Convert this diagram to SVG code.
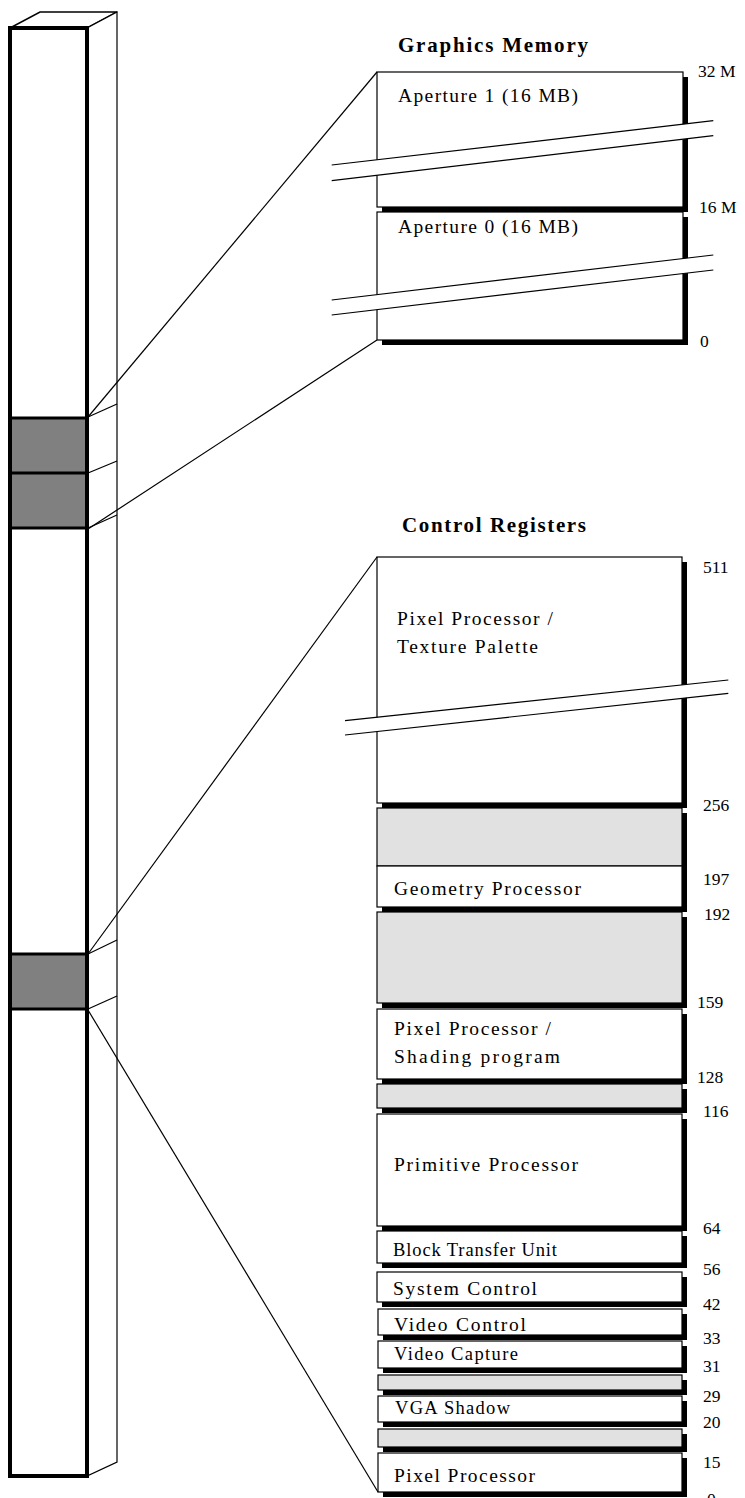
<svg xmlns="http://www.w3.org/2000/svg" width="745" height="1498" viewBox="0 0 745 1498">
  <style>
    .thin { fill: none; stroke: #000; stroke-width: 1.2; }
    .edge { fill: none; stroke: #000; stroke-width: 4; }
    .bar { fill: none; stroke: #000; stroke-width: 3; }
    .block { fill: #808080; stroke: none; }
    .shadow { fill: #000; }
    .cell { fill: #fff; stroke: #000; stroke-width: 1.2; }
    .cell.empty { fill: #e1e1e1; }
    .band { fill: #fff; stroke: none; }
    .head { font-family: "Liberation Serif", "Times New Roman", serif; font-weight: bold; font-size: 21px; fill: #000; }
    .lbl { font-family: "Liberation Serif", "Times New Roman", serif; font-size: 19.5px; fill: #000; }
    .lbl.small { font-size: 18.5px; }
    .num { font-family: "Liberation Serif", "Times New Roman", serif; font-size: 17.5px; fill: #000; }
  </style>

  <!-- Address space column drawn as a tall box -->
  <g id="address-column">
    <polygon points="10,28 40,12 117,12 87,28" fill="#fff" stroke="#000" stroke-width="1.5"/>
    <polygon points="87,28 117,12 117,1462 87,1476" fill="#fff" stroke="#000" stroke-width="1.2"/>
    <rect class="block" x="10" y="418" width="77" height="110"/>
    <rect class="block" x="10" y="954" width="77" height="55"/>
    <line class="bar" x1="10" y1="418" x2="87" y2="418"/>
    <line class="bar" x1="10" y1="473" x2="87" y2="473"/>
    <line class="bar" x1="10" y1="528" x2="87" y2="528"/>
    <line class="bar" x1="10" y1="954" x2="87" y2="954"/>
    <line class="bar" x1="10" y1="1009" x2="87" y2="1009"/>
    <line class="thin" x1="88" y1="417" x2="117" y2="404"/>
    <line class="thin" x1="88" y1="473" x2="117" y2="461"/>
    <line class="thin" x1="88" y1="528" x2="117" y2="515"/>
    <line class="thin" x1="88" y1="954" x2="117" y2="940"/>
    <line class="thin" x1="88" y1="1009" x2="117" y2="996"/>
    <rect class="edge" x="10" y="28" width="77" height="1448"/>
  </g>

  <!-- Graphics memory map -->
  <g id="graphics-memory">
    <text class="head" x="398" y="52" textLength="190">Graphics Memory</text>
    <g id="aperture-1">
      <rect class="shadow" x="382" y="77" width="306" height="135"/>
      <rect class="cell" x="377" y="72" width="306" height="135"/>
      <text class="lbl" x="398" y="102" textLength="180">Aperture 1 (16 MB)</text>
    </g>
    <g id="aperture-0">
      <rect class="shadow" x="382" y="217" width="306" height="128"/>
      <rect class="cell" x="377" y="212" width="306" height="128"/>
      <text class="lbl" x="398" y="233" textLength="180">Aperture 0 (16 MB)</text>
    </g>
    <polygon class="band" points="331.7,165 713.3,120.7 713.3,135.7 331.7,180.7"/>
    <line class="thin" x1="331.7" y1="165" x2="713.3" y2="120.7"/>
    <line class="thin" x1="331.7" y1="180.7" x2="713.3" y2="135.7"/>
    <polygon class="band" points="331.7,300 713.3,255 713.3,270 331.7,315"/>
    <line class="thin" x1="331.7" y1="300" x2="713.3" y2="255"/>
    <line class="thin" x1="331.7" y1="315" x2="713.3" y2="270"/>
    <text class="num" x="698" y="77">32 M</text>
    <text class="num" x="699" y="213">16 M</text>
    <text class="num" x="700" y="347">0</text>
  </g>

  <!-- Control register map -->
  <g id="control-registers">
    <text class="head" x="402" y="532" textLength="184">Control Registers</text>
    <g id="texture-palette">
      <rect class="shadow" x="382" y="562" width="305" height="246"/>
      <rect class="cell" x="377" y="557" width="305" height="246"/>
      <text class="lbl" x="397" y="625" textLength="156">Pixel Processor /</text>
      <text class="lbl" x="397" y="653" textLength="141">Texture Palette</text>
    </g>
    <g id="reserved-197-255">
      <rect class="shadow" x="382" y="813" width="305" height="58"/>
      <rect class="cell empty" x="377" y="808" width="305" height="58"/>
    </g>
    <g id="geometry-processor">
      <rect class="shadow" x="382" y="871" width="305" height="41"/>
      <rect class="cell" x="377" y="866" width="305" height="41"/>
      <text class="lbl" x="394" y="895" textLength="187">Geometry Processor</text>
    </g>
    <g id="reserved-159-191">
      <rect class="shadow" x="382" y="917" width="305" height="91"/>
      <rect class="cell empty" x="377" y="912" width="305" height="91"/>
    </g>
    <g id="shading-program">
      <rect class="shadow" x="382" y="1014" width="305" height="70"/>
      <rect class="cell" x="377" y="1009" width="305" height="70"/>
      <text class="lbl" x="394" y="1035" textLength="157">Pixel Processor /</text>
      <text class="lbl" x="394" y="1063" textLength="166">Shading program</text>
    </g>
    <g id="reserved-116-127">
      <rect class="shadow" x="382" y="1089" width="305" height="24"/>
      <rect class="cell empty" x="377" y="1084" width="305" height="24"/>
    </g>
    <g id="primitive-processor">
      <rect class="shadow" x="382" y="1119" width="305" height="112"/>
      <rect class="cell" x="377" y="1114" width="305" height="112"/>
      <text class="lbl" x="394" y="1171" textLength="184">Primitive Processor</text>
    </g>
    <g id="block-transfer-unit">
      <rect class="shadow" x="382" y="1236" width="305" height="32"/>
      <rect class="cell" x="377" y="1231" width="305" height="32"/>
      <text class="lbl small" x="393" y="1256" textLength="164">Block Transfer Unit</text>
    </g>
    <g id="system-control">
      <rect class="shadow" x="382" y="1277" width="305" height="30"/>
      <rect class="cell" x="377" y="1272" width="305" height="30"/>
      <text class="lbl" x="393" y="1295" textLength="144">System Control</text>
    </g>
    <g id="video-control">
      <rect class="shadow" x="383" y="1314" width="304" height="26"/>
      <rect class="cell" x="378" y="1309" width="304" height="26"/>
      <text class="lbl" x="394" y="1331" textLength="132">Video Control</text>
    </g>
    <g id="video-capture">
      <rect class="shadow" x="383" y="1346" width="304" height="27"/>
      <rect class="cell" x="378" y="1341" width="304" height="27"/>
      <text class="lbl small" x="394" y="1360" textLength="124">Video Capture</text>
    </g>
    <g id="reserved-29-30">
      <rect class="shadow" x="383" y="1380" width="304" height="15"/>
      <rect class="cell empty" x="378" y="1375" width="304" height="15"/>
    </g>
    <g id="vga-shadow">
      <rect class="shadow" x="383" y="1401" width="304" height="26"/>
      <rect class="cell" x="378" y="1396" width="304" height="26"/>
      <text class="lbl small" x="395" y="1414" textLength="115">VGA Shadow</text>
    </g>
    <g id="reserved-15-19">
      <rect class="shadow" x="383" y="1434" width="304" height="18"/>
      <rect class="cell empty" x="378" y="1429" width="304" height="18"/>
    </g>
    <g id="pixel-processor">
      <rect class="shadow" x="383" y="1458" width="304" height="39"/>
      <rect class="cell" x="378" y="1453" width="304" height="39"/>
      <text class="lbl" x="394" y="1482" textLength="141">Pixel Processor</text>
    </g>
    <polygon class="band" points="345,720.7 728.3,680 728.3,693.3 345,735"/>
    <line class="thin" x1="345" y1="720.7" x2="728.3" y2="680"/>
    <line class="thin" x1="345" y1="735" x2="728.3" y2="693.3"/>
    <text class="num" x="703" y="573">511</text>
    <text class="num" x="703" y="811">256</text>
    <text class="num" x="703" y="885">197</text>
    <text class="num" x="704" y="920">192</text>
    <text class="num" x="697" y="1008">159</text>
    <text class="num" x="697" y="1083">128</text>
    <text class="num" x="703" y="1117">116</text>
    <text class="num" x="703" y="1234">64</text>
    <text class="num" x="703" y="1275">56</text>
    <text class="num" x="703" y="1310">42</text>
    <text class="num" x="703" y="1344">33</text>
    <text class="num" x="703" y="1372">31</text>
    <text class="num" x="703" y="1402">29</text>
    <text class="num" x="703" y="1428">20</text>
    <text class="num" x="703" y="1468">15</text>
    <text class="num" x="707" y="1505">0</text>
  </g>

  <!-- Lines from the column regions out to the expanded maps -->
  <g id="connectors">
    <line class="thin" x1="88" y1="417" x2="377" y2="72"/>
    <line class="thin" x1="88" y1="529" x2="377" y2="340"/>
    <line class="thin" x1="88" y1="954" x2="377" y2="557"/>
    <line class="thin" x1="88" y1="1010" x2="378" y2="1492"/>
  </g>
</svg>
